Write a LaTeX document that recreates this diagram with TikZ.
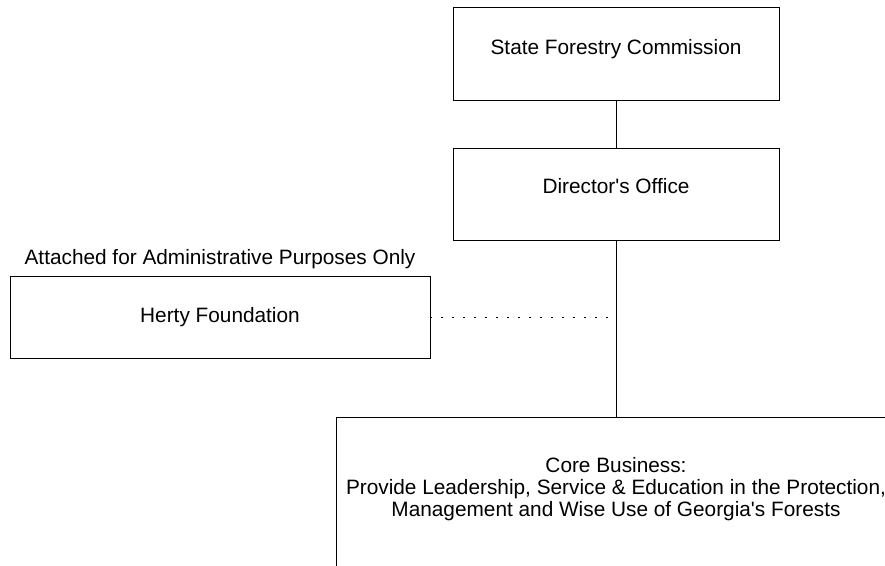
\documentclass[tikz,border=0pt]{standalone}
\usepackage{fontspec}
\setmainfont{Liberation Sans}
\usetikzlibrary{positioning}
\tikzset{
    -,auto,node distance =1 cm and 1 cm,line width=2pt,
    box/.style ={rectangle, draw, inner sep=0pt, font=\fontsize{20.8}{22}\selectfont},
    office/.style ={box, minimum width = 326pt, minimum height = 93pt, text height=14pt, text depth=14pt},
    txt/.style = {inner sep=0pt, align=center, font=\fontsize{20.8}{22}\selectfont},
    attached/.style={dash pattern=on 2pt off 9pt}
}

\begin{document}
\begin{tikzpicture}[x=1pt,y=-1pt]
    \useasboundingbox (0,0) rectangle (885,565);
    \node[office] (1) at (616,54) {State Forestry Commission};
    \node[office,minimum height=92pt] (2) [below =47pt of 1] {Director\textquotesingle s Office};
    \node[box,minimum width=420pt,minimum height=82pt] (3) at (220,317) {Herty Foundation};
    \node[txt] (4) [above =7pt of 3] {Attached for Administrative Purposes Only};
    \node[box,minimum width=560pt,minimum height=170pt,anchor=north] (5) at (616,417) {};
    \node[txt] (6) at (616,489) {Core Business:\\Provide Leadership, Service \& Education in the Protection,\\Management and Wise Use of Georgia\textquotesingle s Forests};
    \coordinate (7) at (2.south |- 3.east);

    \path (1) edge (2);
    \path (2) edge (5);
    \path[attached] (3) edge ([xshift=-6pt]7);
\end{tikzpicture}
\end{document}
